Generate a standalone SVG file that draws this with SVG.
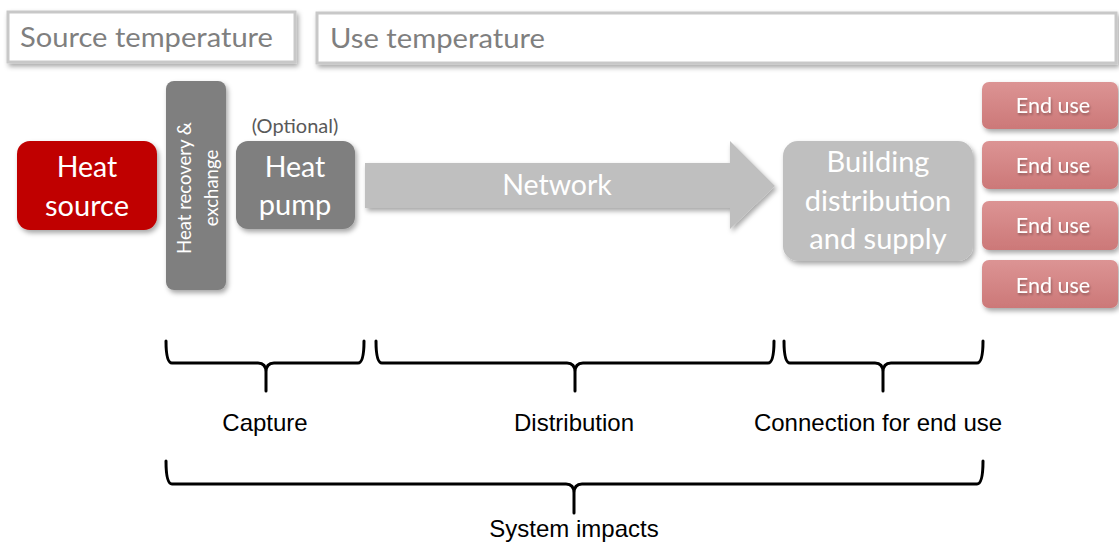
<svg xmlns="http://www.w3.org/2000/svg" width="1119" height="542" viewBox="0 0 1119 542">
<defs>
<filter id="sh" x="-20%" y="-20%" width="140%" height="140%">
<feDropShadow dx="2" dy="3" stdDeviation="2.5" flood-color="#000" flood-opacity="0.35"/>
</filter>
<filter id="tsh" x="-10%" y="-10%" width="120%" height="130%">
<feDropShadow dx="1" dy="2" stdDeviation="1.2" flood-color="#000" flood-opacity="0.3"/>
</filter>
<linearGradient id="eu" x1="0" y1="0" x2="0" y2="1">
<stop offset="0" stop-color="#dc9494"/>
<stop offset="1" stop-color="#cc7878"/>
</linearGradient>
</defs>
<style>
.hdr{fill:#fff;stroke:#c8c8c8;stroke-width:3}
.hdrt{font-family:Lato,"Open Sans",sans-serif;font-size:27px;fill:#7f7f7f}
.w{font-family:Lato,"Open Sans",sans-serif;fill:#fff;text-anchor:middle}
.brace{fill:none;stroke:#000;stroke-width:3;stroke-linejoin:round;stroke-linecap:round}
.lbl{font-family:"Liberation Sans",Arial,sans-serif;font-size:24px;fill:#000;text-anchor:middle}
</style>
<g id="source-temperature">
<rect class="hdr" x="8" y="12" width="287" height="50" filter="url(#sh)"/>
<text class="hdrt" x="20" y="47" textLength="253" lengthAdjust="spacingAndGlyphs">Source temperature</text>
</g>
<g id="use-temperature">
<rect class="hdr" x="317" y="13" width="799" height="50" filter="url(#sh)"/>
<text class="hdrt" x="330" y="48" textLength="215" lengthAdjust="spacingAndGlyphs">Use temperature</text>
</g>
<g id="heat-source">
<rect x="17" y="141" width="140" height="89" rx="13" fill="#c00000" filter="url(#sh)"/>
<text class="w" x="87" y="177" font-size="28.5">Heat</text>
<text class="w" x="87" y="216" font-size="29">source</text>
</g>
<g id="heat-recovery">
<rect x="166" y="81" width="60" height="209" rx="8" fill="#7f7f7f" filter="url(#sh)"/>
<text class="w" font-size="18.5" transform="translate(191,188) rotate(-90)">Heat recovery &amp;</text>
<text class="w" font-size="18.5" transform="translate(218,188) rotate(-90)">exchange</text>
</g>
<g id="heat-pump">
<text x="295" y="133" font-family="Lato,'Open Sans',sans-serif" font-size="20" fill="#595959" text-anchor="middle">(Optional)</text>
<rect x="236" y="141" width="119" height="88" rx="12" fill="#7f7f7f" filter="url(#sh)"/>
<text class="w" x="295" y="177" font-size="28.5">Heat</text>
<text class="w" x="295" y="215" font-size="29">pump</text>
</g>
<g id="connectors">
<g id="network">
<path d="M365,163 H730 V141 L775,186 L730,229 V208 H365 Z" fill="#bfbfbf" filter="url(#sh)"/>
<text class="w" x="557" y="195" font-size="28.5">Network</text>
</g>
</g>
<g id="building">
<rect x="783" y="141" width="190" height="120" rx="15" fill="#bfbfbf" filter="url(#sh)"/>
<text class="w" x="878" y="172" font-size="29">Building</text>
<text class="w" x="878" y="211" font-size="29">distribution</text>
<text class="w" x="878" y="249" font-size="29">and supply</text>
</g>
<g id="end-use-1">
<rect x="982" y="82" width="136" height="47" rx="7" fill="url(#eu)" filter="url(#sh)"/>
<text class="w" x="1053" y="113" font-size="21.5" filter="url(#tsh)">End use</text>
</g>
<g id="end-use-2">
<rect x="982" y="141" width="136" height="48" rx="7" fill="url(#eu)" filter="url(#sh)"/>
<text class="w" x="1053" y="173" font-size="21.5" filter="url(#tsh)">End use</text>
</g>
<g id="end-use-3">
<rect x="982" y="201" width="136" height="49" rx="7" fill="url(#eu)" filter="url(#sh)"/>
<text class="w" x="1053" y="233" font-size="21.5" filter="url(#tsh)">End use</text>
</g>
<g id="end-use-4">
<rect x="982" y="260" width="136" height="48" rx="7" fill="url(#eu)" filter="url(#sh)"/>
<text class="w" x="1053" y="293" font-size="21.5" filter="url(#tsh)">End use</text>
</g>
<g id="capture">
<path class="brace" d="M166,341 Q166,363 172,363 H258 Q266,363 266,372 V391 M266,372 Q266,363 274,363 H358 Q364,363 364,341"/>
<text class="lbl" x="265" y="431">Capture</text>
</g>
<g id="distribution">
<path class="brace" d="M376,341 Q376,363 382,363 H567 Q575,363 575,372 V391 M575,372 Q575,363 583,363 H768 Q774,363 774,341"/>
<text class="lbl" x="574" y="431">Distribution</text>
</g>
<g id="connection">
<path class="brace" d="M784,341 Q784,363 790,363 H875 Q883,363 883,372 V391 M883,372 Q883,363 891,363 H977 Q983,363 983,341"/>
<text class="lbl" x="878" y="431">Connection for end use</text>
</g>
<g id="system-impacts">
<path class="brace" d="M166,461 Q166,484 172,484 H566 Q574,484 574,493 V513 M574,493 Q574,484 582,484 H977 Q983,484 983,461"/>
<text class="lbl" x="574" y="537">System impacts</text>
</g>
</svg>
